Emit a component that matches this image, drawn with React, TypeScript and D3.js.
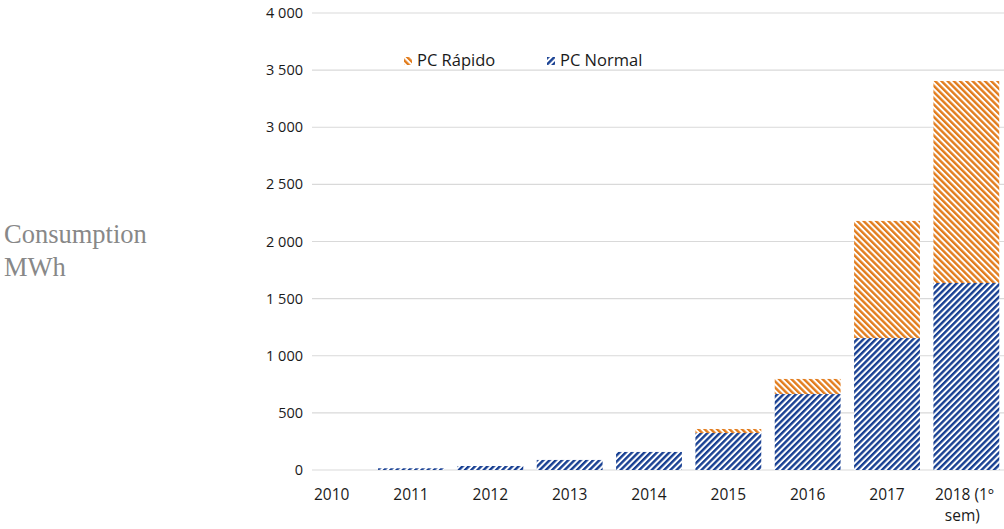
import React from "react";
import * as d3 from "d3";

const categories = ["2010", "2011", "2012", "2013", "2014", "2015", "2016", "2017", "2018 (1º sem)"];
const pcNormal = [0, 15, 35, 88, 158, 324, 665, 1155, 1637];
const pcRapido = [0, 0, 0, 0, 0, 35, 132, 1025, 1768];
const yTicks = [0, 500, 1000, 1500, 2000, 2500, 3000, 3500, 4000];

const W = 1004;
const H = 529;
const BLUE = "#173f92";
const ORANGE = "#e27c1c";

export default function App() {
  const x = d3.scaleBand<string>().domain(categories).range([292, 1006]).paddingInner(0.17).paddingOuter(0.085);
  const y = d3.scaleLinear().domain([0, 4000]).range([470, 13]);
  const fmt = (v: number) => d3.format(",")(v).replace(/,/g, " ");
  const font = "'Open Sans', 'Noto Sans', sans-serif";

  return (
    <svg width={W} height={H} style={{ position: "absolute", left: 0, top: 0, background: "#fff" }}>
      <defs>
        <pattern id="hBlue" patternUnits="userSpaceOnUse" width={4.4} height={4.4} patternTransform="rotate(45)">
          <rect width={4.4} height={4.4} fill="#fff" />
          <rect x={0} y={0} width={2.4} height={4.4} fill={BLUE} />
        </pattern>
        <pattern id="hOrange" patternUnits="userSpaceOnUse" width={4.4} height={4.4} patternTransform="rotate(-45)">
          <rect width={4.4} height={4.4} fill="#fff" />
          <rect x={0} y={0} width={2.4} height={4.4} fill={ORANGE} />
        </pattern>
      </defs>

      {yTicks.map((t) => (
        <g key={t}>
          <line x1={312} x2={1004} y1={y(t)} y2={y(t)} stroke="#d9d9d9" strokeWidth={1.2} />
          <text x={303} y={y(t)} dy="0.35em" textAnchor="end" fontFamily={font} fontSize={14.5} fill="#1a1a1a">
            {fmt(t)}
          </text>
        </g>
      ))}

      {categories.map((c, i) => {
        const bx = x(c)!;
        const bw = x.bandwidth();
        const n = pcNormal[i];
        const r = pcRapido[i];
        return (
          <g key={c}>
            {n > 0 && <rect x={bx} width={bw} y={y(n)} height={y(0) - y(n)} fill="url(#hBlue)" />}
            {r > 0 && <rect x={bx} width={bw} y={y(n + r)} height={y(n) - y(n + r)} fill="url(#hOrange)" />}
          </g>
        );
      })}

      {categories.map((c) => {
        const cx = x(c)! + x.bandwidth() / 2;
        if (c.startsWith("2018")) {
          return (
            <text key={c} x={cx} y={500} textAnchor="middle" fontFamily={font} fontSize={15.5} fill="#1a1a1a">
              <tspan x={cx - 2}>2018 (1º</tspan>
              <tspan x={cx - 4} dy={21}>sem)</tspan>
            </text>
          );
        }
        return (
          <text key={c} x={cx} y={500} textAnchor="middle" fontFamily={font} fontSize={15.5} fill="#1a1a1a">
            {c}
          </text>
        );
      })}

      <g>
        <rect x={404} y={57} width={8} height={8} fill="url(#hOrange)" />
        <text x={417} y={66} fontFamily={font} fontSize={16.5} fill="#1a1a1a">PC Rápido</text>
        <rect x={547} y={57} width={8} height={8} fill="url(#hBlue)" />
        <text x={560} y={66} fontFamily={font} fontSize={16.5} fill="#1a1a1a">PC Normal</text>
      </g>

      <text x={4} y={243} fontFamily="'Liberation Serif', 'DejaVu Serif', serif" fontSize={26.5} fill="#888">
        <tspan x={4}>Consumption</tspan>
        <tspan x={4} dy={33}>MWh</tspan>
      </text>
    </svg>
  );
}
